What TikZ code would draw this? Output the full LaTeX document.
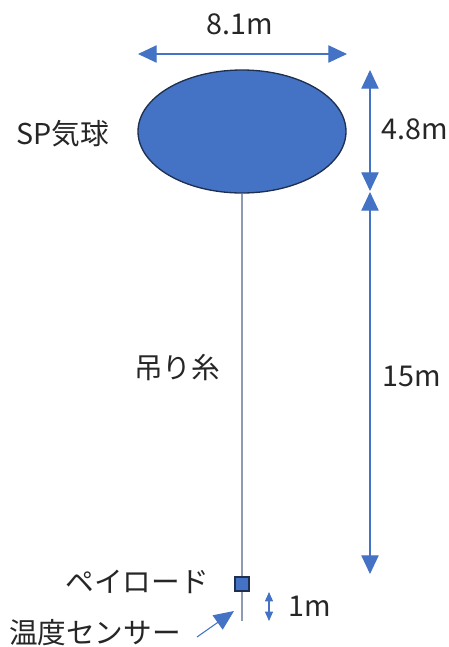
\documentclass[tikz,border=0pt]{standalone}
\usepackage{fontspec}
\setmainfont{Noto Sans CJK JP}
\usetikzlibrary{arrows.meta,shapes.geometric}
\definecolor{obl}{HTML}{4472C4}
\definecolor{odk}{HTML}{1F2F4F}
\definecolor{rope}{HTML}{8E9BB3}
\begin{document}
\begin{tikzpicture}[x=0.75pt,y=-0.75pt,
  lbl/.style={font=\fontsize{21.5pt}{24pt}\selectfont, text=black!85, inner sep=0pt},
  dim/.style={draw=obl, line width=0.9pt, {Triangle[width=13pt,length=14pt]}-{Triangle[width=13pt,length=14pt]}},
  smalldim/.style={draw=obl, line width=0.9pt, {Triangle[width=6pt,length=7pt]}-{Triangle[width=6pt,length=7pt]}}]
\useasboundingbox (0,0) rectangle (449,647);
% balloon
\node (balloon) [ellipse, draw=odk, line width=1pt, fill=obl, minimum width=208*0.75pt, minimum height=123*0.75pt, inner sep=0pt] at (242,131.5) {};
% payload
\node (payload) [rectangle, draw=odk, line width=1pt, fill=obl, minimum size=14*0.75pt, inner sep=0pt] at (242,584) {};
\coordinate (ropeend) at (242,621);
\draw[rope, line width=0.8pt] (balloon.south) -- (payload.north);
\draw[rope, line width=0.8pt] (payload.south) -- (ropeend);
% dimension arrows
\coordinate (wl) at (138,54);
\coordinate (wr) at (347,54);
\draw[dim] (wl) -- (wr);
\coordinate (ht) at (370,70);
\coordinate (hb) at (370,191);
\draw[dim] (ht) -- (hb);
\coordinate (rt) at (370,192);
\coordinate (rb) at (370,574);
\draw[dim] (rt) -- (rb);
\coordinate (mt) at (269,592);
\coordinate (mb) at (269,621);
\draw[smalldim] (mt) -- (mb);
% sensor arrow
\coordinate (sa) at (197,637);
\coordinate (sb) at (234,611);
\draw[draw=obl, line width=0.8pt, -{Triangle[width=13pt,length=15pt]}] (sa) -- (sb);
% labels
\node[lbl] (l81) at (240,24) {8.1m};
\node[lbl] (l48) at (415,129) {4.8m};
\node[lbl] (l15) at (412,376) {15m};
\node[lbl] (l1) at (310,606) {1m};
\node[lbl] (lsp) at (63,134) {SP気球};
\node[lbl] (lito) at (177,367) {吊り糸};
\node[lbl] (lpl) at (137,582) {ペイロード};
\node[lbl] (lsen) at (95,633) {温度センサー};
\end{tikzpicture}
\end{document}
